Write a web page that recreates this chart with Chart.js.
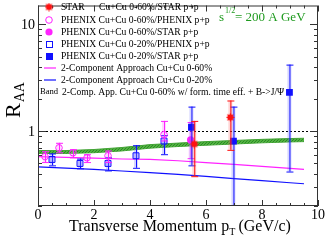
<!DOCTYPE html>
<html>
<head>
<meta charset="utf-8">
<script src="https://cdn.jsdelivr.net/npm/chart.js@4.4.1/dist/chart.umd.min.js"></script>
<style>
  html, body { margin: 0; padding: 0; background: #fff; }
</style>
</head>
<body>
<canvas id="raaChart" width="325" height="242"></canvas>
<script>
// values (pT in GeV/c, R_AA)
const starX = [5.58, 6.87];
const starY = [0.76, 1.35];
const starLo = [0.38, 0.67];
const starHi = [1.25, 1.94];

const phx60pX = [0.25, 0.75, 1.25, 1.75, 2.5, 4.5];
const phx60pY = [0.58, 0.70, 0.63, 0.565, 0.59, 0.93];
const phx60pLo = [0.515, 0.635, 0.57, 0.515, 0.515, 0.82];
const phx60pHi = [0.65, 0.78, 0.68, 0.61, 0.66, 1.25];

const phx60sX = [5.45];
const phx60sY = [0.83];
const phx60sLo = [0.56];
const phx60sHi = [1.22];

const phx20pX = [0.5, 1.5, 2.5, 3.5, 4.5];
const phx20pY = [0.545, 0.50, 0.50, 0.59, 0.81];
const phx20pLo = [0.48, 0.45, 0.43, 0.455, 0.61];
const phx20pHi = [0.62, 0.555, 0.57, 0.74, 0.92];

const phx20sX = [5.48, 6.98, 8.98];
const phx20sY = [1.09, 0.81, 2.31];
const phx20sLo = [0.48, 0.15, 0.42];
const phx20sHi = [1.70, 1.70, 4.2];

const curveX = [0, 1, 2, 3, 4, 5, 6, 7, 8, 9, 9.5];
const twoComp60 = [0.58, 0.57, 0.56, 0.55, 0.545, 0.53, 0.51, 0.49, 0.47, 0.45, 0.44];
const twoComp20 = [0.464, 0.452, 0.44, 0.425, 0.41, 0.395, 0.378, 0.36, 0.345, 0.33, 0.323];
const bandLo = [0.62, 0.62, 0.63, 0.655, 0.695, 0.72, 0.74, 0.76, 0.78, 0.795, 0.80];
const bandHi = [0.66, 0.66, 0.675, 0.705, 0.75, 0.775, 0.80, 0.82, 0.84, 0.855, 0.86];

const xTickLabels = [0, 2, 4, 6, 8, 10];
const yTickLabels = [1, 10];

const SERIF = '"Liberation Serif", "DejaVu Serif", serif';
const RED = '#ff1010';
const MAG = '#ff22ff';
const BLUE = '#1010ff';

function pts(xs, ys) {
    return xs.map((x, i) => ({ x: x, y: ys[i] }));
}

// filled star marker for STAR points
function makeStar(size, color) {
    const cv = document.createElement('canvas');
    cv.width = size;
    cv.height = size;
    const c = cv.getContext('2d');
    const cx = size / 2, cy = size / 2, ro = size / 2, ri = size / 3.2;
    c.beginPath();
    for (let i = 0; i < 16; i++) {
        const r = i % 2 === 0 ? ro : ri;
        const a = Math.PI * i / 8;
        c.lineTo(cx + r * Math.cos(a), cy + r * Math.sin(a));
    }
    c.closePath();
    c.fillStyle = color;
    c.fill();
    return cv;
}
const starMarker = makeStar(9, RED);

// dotted texture for the band
function makeBandPattern() {
    const cv = document.createElement('canvas');
    cv.width = 3;
    cv.height = 3;
    const c = cv.getContext('2d');
    c.fillStyle = '#52b240';
    c.fillRect(0, 0, 3, 3);
    c.fillStyle = '#2a8a26';
    c.fillRect(0, 0, 1, 1);
    c.fillRect(2, 1, 1, 1);
    c.fillRect(1, 2, 1, 1);
    return document.createElement('canvas').getContext('2d').createPattern(cv, 'repeat');
}
const bandFill = makeBandPattern();

const datasets = [
    {
        label: 'bandHi', data: pts(curveX, bandHi), borderColor: '#44a436', borderWidth: 1,
        pointRadius: 0, fill: '+1', backgroundColor: bandFill, order: 10
    },
    {
        label: 'bandLo', data: pts(curveX, bandLo), borderColor: '#44a436', borderWidth: 1,
        pointRadius: 0, fill: false, order: 10
    },
    {
        label: '2-Component Approach Cu+Cu 0-60%', data: pts(curveX, twoComp60),
        borderColor: MAG, borderWidth: 1.2, pointRadius: 0, order: 9
    },
    {
        label: '2-Component Approach Cu+Cu 0-20%', data: pts(curveX, twoComp20),
        borderColor: BLUE, borderWidth: 1.2, pointRadius: 0, order: 9
    },
    {
        label: 'PHENIX Cu+Cu 0-20%/PHENIX p+p', data: pts(phx20pX, phx20pY),
        lo: phx20pLo, hi: phx20pHi, errColor: BLUE, errBack: 'rgba(90,90,255,0.25)',
        showLine: false, pointStyle: 'rect', pointRadius: 4.2, borderWidth: 1,
        borderColor: BLUE, backgroundColor: 'rgba(120,120,255,0.35)', order: 5
    },
    {
        label: 'PHENIX Cu+Cu 0-60%/PHENIX p+p', data: pts(phx60pX, phx60pY),
        lo: phx60pLo, hi: phx60pHi, errColor: MAG, errBack: 'rgba(255,90,255,0.25)',
        showLine: false, pointStyle: 'circle', pointRadius: 3.3, borderWidth: 1,
        borderColor: MAG, backgroundColor: 'rgba(255,255,255,0)', order: 4
    },
    {
        label: 'PHENIX Cu+Cu 0-60%/STAR p+p', data: pts(phx60sX, phx60sY),
        lo: phx60sLo, hi: phx60sHi, errColor: MAG, errBack: 'rgba(255,90,255,0.25)',
        showLine: false, pointStyle: 'circle', pointRadius: 3.6, borderWidth: 0,
        borderColor: MAG, backgroundColor: MAG, order: 3
    },
    {
        label: 'PHENIX Cu+Cu 0-20%/STAR p+p', data: pts(phx20sX, phx20sY),
        lo: phx20sLo, hi: phx20sHi, errColor: BLUE, errBack: 'rgba(90,90,255,0.25)',
        showLine: false, pointStyle: 'rect', pointRadius: 4.8, borderWidth: 0,
        borderColor: BLUE, backgroundColor: BLUE, order: 2
    },
    {
        label: 'STAR Cu+Cu 0-60%/STAR p+p', data: pts(starX, starY),
        lo: starLo, hi: starHi, errColor: RED, errBack: 'rgba(255,90,90,0.25)',
        showLine: false, pointStyle: starMarker, pointRadius: 4.5,
        borderColor: RED, backgroundColor: RED, order: 1
    }
];

// error bars, drawn just before each dataset so the markers sit on top
const errorBars = {
    id: 'errorBars',
    beforeDatasetDraw(chart, args) {
        const ds = chart.data.datasets[args.index];
        if (!ds.lo) return;
        const { ctx, chartArea, scales: { x, y } } = chart;
        ctx.save();
        ctx.beginPath();
        ctx.rect(chartArea.left, chartArea.top, chartArea.right - chartArea.left, chartArea.bottom - chartArea.top);
        ctx.clip();
        ds.data.forEach((p, i) => {
            const px = x.getPixelForValue(p.x);
            const yl = y.getPixelForValue(ds.lo[i]);
            const yh = y.getPixelForValue(ds.hi[i]);
            ctx.strokeStyle = ds.errBack;
            ctx.lineWidth = 4;
            ctx.beginPath();
            ctx.moveTo(px, yl); ctx.lineTo(px, yh);
            ctx.stroke();
            ctx.strokeStyle = ds.errColor;
            ctx.lineWidth = 1;
            ctx.beginPath();
            ctx.moveTo(px + 0.5, yl); ctx.lineTo(px + 0.5, yh);
            ctx.moveTo(px - 3, yl + 0.5); ctx.lineTo(px + 4, yl + 0.5);
            ctx.moveTo(px - 3, yh + 0.5); ctx.lineTo(px + 4, yh + 0.5);
            ctx.stroke();
        });
        ctx.restore();
    }
};

// dotted line at R_AA = 1
const unityLine = {
    id: 'unityLine',
    beforeDatasetsDraw(chart) {
        const { ctx, chartArea, scales: { y } } = chart;
        const py = Math.round(y.getPixelForValue(1)) + 0.5;
        ctx.save();
        ctx.strokeStyle = '#000';
        ctx.lineWidth = 1;
        ctx.setLineDash([2, 2]);
        ctx.beginPath();
        ctx.moveTo(chartArea.left, py);
        ctx.lineTo(chartArea.right, py);
        ctx.stroke();
        ctx.restore();
    }
};

// frame, inward ticks, labels, legend and titles
const frame = {
    id: 'frame',
    afterDraw(chart) {
        const { ctx, chartArea: a, scales: { x, y } } = chart;
        ctx.save();
        ctx.strokeStyle = '#333';
        ctx.lineWidth = 1;
        ctx.strokeRect(a.left + 0.5, a.top + 0.5, a.right - a.left - 1, a.bottom - a.top - 1);

        ctx.beginPath();
        for (let v = 0; v <= 10.001; v += 0.5) {
            const px = Math.round(x.getPixelForValue(v)) + 0.5;
            const len = Math.abs(v % 2) < 1e-6 ? 6 : 3;
            ctx.moveTo(px, a.bottom); ctx.lineTo(px, a.bottom - len);
            ctx.moveTo(px, a.top); ctx.lineTo(px, a.top + len);
        }
        [0.2, 1, 10].forEach(dec => {
            for (let m = 1; m <= 9; m++) {
                const v = dec === 0.2 ? (m + 1) / 10 : dec * m;
                if (dec === 0.2 && m > 8) continue;
                if (v < y.min || v > y.max) continue;
                const py = Math.round(y.getPixelForValue(v)) + 0.5;
                const len = (v === 1 || v === 10) ? 8 : 4;
                ctx.moveTo(a.left, py); ctx.lineTo(a.left + len, py);
                ctx.moveTo(a.right, py); ctx.lineTo(a.right - len, py);
            }
        });
        ctx.stroke();

        ctx.fillStyle = '#000';
        ctx.font = '14px ' + SERIF;
        ctx.textAlign = 'center';
        ctx.textBaseline = 'middle';
        xTickLabels.forEach(v => {
            ctx.fillText(String(v), x.getPixelForValue(v), 215);
        });
        ctx.textAlign = 'right';
        yTickLabels.forEach(v => {
            ctx.fillText(String(v), a.left - 3, y.getPixelForValue(v) + 1);
        });

        // x title
        ctx.font = '16px ' + SERIF;
        ctx.textAlign = 'left';
        ctx.textBaseline = 'alphabetic';
        let tx = 69;
        const ty = 231;
        ctx.fillText('Transverse Momentum p', tx, ty);
        tx += ctx.measureText('Transverse Momentum p').width;
        ctx.font = '10px ' + SERIF;
        ctx.fillText('T', tx, ty + 4);
        tx += ctx.measureText('T').width + 3;
        ctx.font = '16px ' + SERIF;
        ctx.fillText('(GeV/c)', tx, ty);

        // y title
        ctx.save();
        ctx.translate(20, 118);
        ctx.rotate(-Math.PI / 2);
        ctx.font = '22px ' + SERIF;
        ctx.fillText('R', 0, 0);
        const rw = ctx.measureText('R').width;
        ctx.font = '14px ' + SERIF;
        ctx.fillText('AA', rw + 1, 4);
        ctx.restore();

        // energy label
        ctx.fillStyle = '#1e9a1e';
        ctx.font = '13px ' + SERIF;
        ctx.fillText('s', 219, 21);
        ctx.font = '8px ' + SERIF;
        ctx.fillText('1/2', 225, 13);
        ctx.font = '13px ' + SERIF;
        ctx.fillText('= 200 A GeV', 235, 21);

        // legend
        const lx = 49, textX = 61;
        const rows = [7, 20, 32, 44, 56, 68, 80, 92];
        ctx.font = '9.6px ' + SERIF;
        ctx.textBaseline = 'middle';
        ctx.fillStyle = '#000';
        ctx.drawImage(starMarker, lx - 4.5, rows[0] - 4.5);
        ctx.fillText('STAR', textX, rows[0]);
        ctx.fillText('Cu+Cu 0-60%/STAR p+p', 99, rows[0]);

        ctx.lineWidth = 1;
        ctx.strokeStyle = MAG;
        ctx.beginPath(); ctx.arc(lx, rows[1], 3.3, 0, Math.PI * 2); ctx.stroke();
        ctx.fillStyle = MAG;
        ctx.beginPath(); ctx.arc(lx, rows[2], 3.6, 0, Math.PI * 2); ctx.fill();
        ctx.strokeStyle = BLUE;
        ctx.strokeRect(lx - 2.5, rows[3] - 2.5, 6, 6);
        ctx.fillStyle = BLUE;
        ctx.fillRect(lx - 3, rows[4] - 3, 7, 7);
        ctx.lineWidth = 1.2;
        ctx.strokeStyle = MAG;
        ctx.beginPath(); ctx.moveTo(44, rows[5]); ctx.lineTo(56, rows[5]); ctx.stroke();
        ctx.strokeStyle = BLUE;
        ctx.beginPath(); ctx.moveTo(44, rows[6]); ctx.lineTo(56, rows[6]); ctx.stroke();

        ctx.fillStyle = '#000';
        ctx.fillText('PHENIX Cu+Cu 0-60%/PHENIX p+p', textX, rows[1]);
        ctx.fillText('PHENIX Cu+Cu 0-60%/STAR p+p', textX, rows[2]);
        ctx.fillText('PHENIX Cu+Cu 0-20%/PHENIX p+p', textX, rows[3]);
        ctx.fillText('PHENIX Cu+Cu 0-20%/STAR p+p', textX, rows[4]);
        ctx.fillText('2-Component Approach Cu+Cu 0-60%', textX, rows[5]);
        ctx.fillText('2-Component Approach Cu+Cu 0-20%', textX, rows[6]);
        ctx.font = '8.6px ' + SERIF;
        ctx.fillText('Band', 40, rows[7]);
        ctx.font = '9.6px ' + SERIF;
        ctx.fillText('2-Comp. App. Cu+Cu 0-60% w/ form. time eff. + B->J/\u03A8', textX + 1, rows[7]);
        ctx.restore();
    }
};

const ctx = document.getElementById('raaChart').getContext('2d');
const raaChart = new Chart(ctx, {
    type: 'line',
    data: { datasets: datasets },
    options: {
        responsive: false,
        animation: false,
        devicePixelRatio: 1,
        layout: { padding: { left: 38, right: 7, top: 0, bottom: 36 } },
        plugins: { legend: { display: false }, tooltip: { enabled: false } },
        elements: { line: { tension: 0 } },
        scales: {
            x: { type: 'linear', min: 0, max: 10, display: false },
            y: { type: 'logarithmic', min: 0.2, max: 15, display: false }
        }
    },
    plugins: [unityLine, errorBars, frame]
});
</script>
</body>
</html>
